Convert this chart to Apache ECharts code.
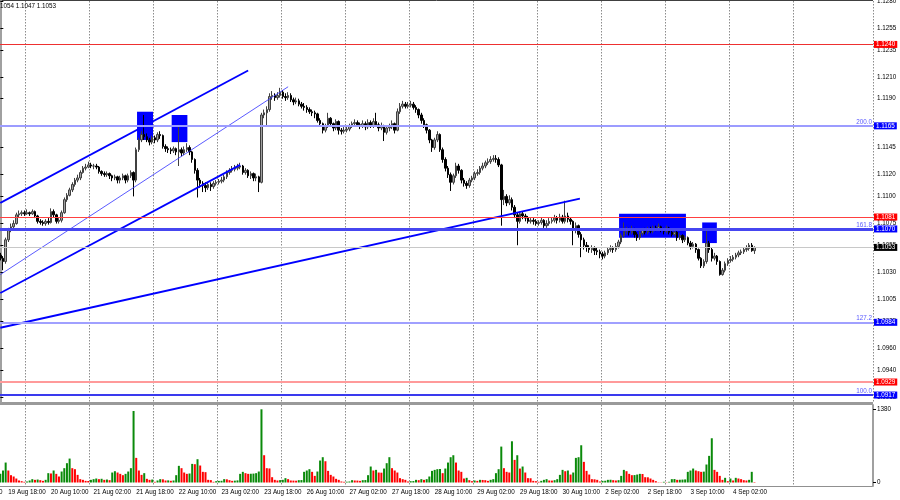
<!DOCTYPE html>
<html><head><meta charset="utf-8">
<script src="https://cdn.jsdelivr.net/npm/echarts@6/dist/echarts.min.js"></script>
<style>html,body{margin:0;padding:0;background:#fff}#c{width:900px;height:500px}</style>
</head><body><div id="c"></div>
<script>
// ---------- data ----------
const header = '1054 1.1047 1.1053';
const xLabels = ['19 Aug 18:00','20 Aug 10:00','21 Aug 02:00','21 Aug 18:00','22 Aug 10:00','23 Aug 02:00','23 Aug 18:00','26 Aug 10:00','27 Aug 02:00','27 Aug 18:00','28 Aug 10:00','29 Aug 02:00','29 Aug 18:00','30 Aug 10:00','2 Sep 02:00','2 Sep 18:00','3 Sep 10:00','4 Sep 02:00'];
const firstLabelBar = 3, labelEvery = 16;
const firstGridBar = 10, gridEvery = 24, lastGridBar = 298;
const categoryCount = 328;
const priceTicks = [1.1280,1.1255,1.1235,1.1210,1.1190,1.1165,1.1145,1.1120,1.1100,1.1075,1.1055,1.1030,1.1005,1.0985,1.0960,1.0940,1.0915];
const volumeTicks = [0, 1380];
// hourly bars: [open, high, low, close]
const ohlc = [
[1.1046,1.1048,1.1041,1.1043],[1.1043,1.1045,1.1032,1.1040],[1.1040,1.1062,1.1038,1.1060],[1.1060,1.1071,1.1058,1.1069],[1.1069,1.1075,1.1067,1.1072],
[1.1072,1.1078,1.1070,1.1075],[1.1075,1.1085,1.1074,1.1083],[1.1083,1.1087,1.1081,1.1084],[1.1084,1.1087,1.1082,1.1085],[1.1085,1.1087,1.1082,1.1084],
[1.1084,1.1088,1.1083,1.1085],[1.1085,1.1086,1.1082,1.1084],[1.1084,1.1088,1.1083,1.1086],[1.1086,1.1087,1.1080,1.1082],[1.1082,1.1083,1.1075,1.1077],
[1.1077,1.1079,1.1074,1.1076],[1.1076,1.1078,1.1073,1.1075],[1.1075,1.1079,1.1073,1.1077],[1.1077,1.1080,1.1074,1.1076],[1.1076,1.1089,1.1075,1.1086],
[1.1086,1.1088,1.1081,1.1083],[1.1083,1.1084,1.1075,1.1077],[1.1077,1.1080,1.1075,1.1078],[1.1078,1.1087,1.1076,1.1085],[1.1085,1.1099,1.1084,1.1097],
[1.1097,1.1103,1.1095,1.1101],[1.1101,1.1108,1.1100,1.1106],[1.1106,1.1113,1.1104,1.1111],[1.1111,1.1117,1.1109,1.1115],[1.1115,1.1120,1.1113,1.1117],
[1.1117,1.1124,1.1115,1.1122],[1.1122,1.1128,1.1121,1.1126],[1.1126,1.1130,1.1124,1.1127],[1.1127,1.1132,1.1126,1.1129],[1.1129,1.1131,1.1126,1.1128],
[1.1128,1.1130,1.1125,1.1128],[1.1128,1.1130,1.1125,1.1127],[1.1127,1.1128,1.1121,1.1123],[1.1123,1.1124,1.1119,1.1121],[1.1121,1.1123,1.1118,1.1120],
[1.1120,1.1123,1.1118,1.1121],[1.1121,1.1122,1.1116,1.1119],[1.1119,1.1120,1.1114,1.1117],[1.1117,1.1120,1.1115,1.1118],[1.1118,1.1119,1.1112,1.1115],
[1.1115,1.1119,1.1112,1.1117],[1.1117,1.1121,1.1115,1.1119],[1.1119,1.1120,1.1112,1.1115],[1.1115,1.1121,1.1113,1.1119],[1.1119,1.1124,1.1117,1.1122],
[1.1122,1.1123,1.1100,1.1115],[1.1115,1.1145,1.1113,1.1143],[1.1143,1.1154,1.1141,1.1152],[1.1152,1.1160,1.1150,1.1157],[1.1157,1.1175,1.1152,1.1155],
[1.1155,1.1158,1.1150,1.1152],[1.1152,1.1154,1.1147,1.1150],[1.1150,1.1156,1.1148,1.1154],[1.1154,1.1156,1.1149,1.1152],[1.1152,1.1159,1.1150,1.1157],
[1.1157,1.1160,1.1153,1.1156],[1.1156,1.1157,1.1144,1.1146],[1.1146,1.1148,1.1141,1.1144],[1.1144,1.1146,1.1140,1.1143],[1.1143,1.1145,1.1139,1.1142],
[1.1142,1.1146,1.1140,1.1144],[1.1144,1.1145,1.1138,1.1141],[1.1141,1.1166,1.1128,1.1143],[1.1143,1.1145,1.1137,1.1140],[1.1140,1.1146,1.1138,1.1143],
[1.1143,1.1149,1.1141,1.1145],[1.1145,1.1147,1.1138,1.1141],[1.1141,1.1142,1.1131,1.1134],[1.1134,1.1135,1.1121,1.1124],[1.1124,1.1126,1.1099,1.1115],
[1.1115,1.1117,1.1108,1.1112],[1.1112,1.1114,1.1104,1.1110],[1.1110,1.1113,1.1104,1.1108],[1.1108,1.1113,1.1106,1.1111],[1.1111,1.1113,1.1105,1.1109],
[1.1109,1.1114,1.1107,1.1112],[1.1112,1.1115,1.1110,1.1113],[1.1113,1.1116,1.1111,1.1114],[1.1114,1.1118,1.1112,1.1115],[1.1115,1.1120,1.1113,1.1118],
[1.1118,1.1124,1.1116,1.1122],[1.1122,1.1126,1.1120,1.1124],[1.1124,1.1128,1.1122,1.1125],[1.1125,1.1129,1.1123,1.1126],[1.1126,1.1130,1.1124,1.1127],
[1.1127,1.1131,1.1125,1.1128],[1.1128,1.1129,1.1120,1.1122],[1.1122,1.1126,1.1120,1.1124],[1.1124,1.1125,1.1117,1.1119],[1.1119,1.1123,1.1116,1.1121],
[1.1121,1.1122,1.1114,1.1117],[1.1117,1.1121,1.1114,1.1118],[1.1118,1.1119,1.1104,1.1113],[1.1113,1.1177,1.1112,1.1175],[1.1175,1.1180,1.1172,1.1177],
[1.1177,1.1183,1.1164,1.1180],[1.1180,1.1195,1.1178,1.1192],[1.1192,1.1197,1.1189,1.1193],[1.1193,1.1195,1.1188,1.1191],[1.1191,1.1196,1.1189,1.1193],
[1.1193,1.1200,1.1191,1.1196],[1.1196,1.1198,1.1190,1.1192],[1.1192,1.1195,1.1188,1.1191],[1.1191,1.1196,1.1189,1.1193],[1.1193,1.1195,1.1187,1.1189],
[1.1189,1.1191,1.1184,1.1187],[1.1187,1.1191,1.1185,1.1188],[1.1188,1.1190,1.1183,1.1185],[1.1185,1.1187,1.1181,1.1183],[1.1183,1.1186,1.1179,1.1182],
[1.1182,1.1184,1.1177,1.1180],[1.1180,1.1182,1.1176,1.1178],[1.1178,1.1180,1.1174,1.1177],[1.1177,1.1179,1.1172,1.1176],[1.1176,1.1177,1.1168,1.1170],
[1.1170,1.1172,1.1164,1.1167],[1.1167,1.1168,1.1158,1.1161],[1.1161,1.1167,1.1159,1.1165],[1.1165,1.1177,1.1163,1.1172],[1.1172,1.1173,1.1164,1.1167],
[1.1167,1.1168,1.1160,1.1163],[1.1163,1.1171,1.1161,1.1169],[1.1169,1.1170,1.1157,1.1161],[1.1161,1.1163,1.1157,1.1160],[1.1160,1.1164,1.1158,1.1161],
[1.1161,1.1165,1.1159,1.1162],[1.1162,1.1167,1.1160,1.1165],[1.1165,1.1169,1.1163,1.1167],[1.1167,1.1171,1.1165,1.1168],[1.1168,1.1170,1.1164,1.1166],
[1.1166,1.1168,1.1162,1.1165],[1.1165,1.1170,1.1163,1.1167],[1.1167,1.1169,1.1161,1.1164],[1.1164,1.1171,1.1162,1.1168],[1.1168,1.1170,1.1163,1.1165],
[1.1165,1.1172,1.1163,1.1169],[1.1169,1.1177,1.1164,1.1166],[1.1166,1.1168,1.1160,1.1163],[1.1163,1.1168,1.1161,1.1165],[1.1165,1.1166,1.1151,1.1159],
[1.1159,1.1165,1.1157,1.1163],[1.1163,1.1167,1.1160,1.1164],[1.1164,1.1170,1.1162,1.1167],[1.1167,1.1168,1.1158,1.1161],[1.1161,1.1181,1.1160,1.1178],
[1.1178,1.1186,1.1176,1.1183],[1.1183,1.1188,1.1181,1.1185],[1.1185,1.1187,1.1181,1.1183],[1.1183,1.1187,1.1181,1.1184],[1.1184,1.1188,1.1182,1.1185],
[1.1185,1.1187,1.1180,1.1182],[1.1182,1.1184,1.1177,1.1180],[1.1180,1.1181,1.1172,1.1175],[1.1175,1.1177,1.1167,1.1170],[1.1170,1.1172,1.1163,1.1166],
[1.1166,1.1167,1.1158,1.1161],[1.1161,1.1162,1.1149,1.1152],[1.1152,1.1153,1.1141,1.1145],[1.1145,1.1154,1.1143,1.1152],[1.1152,1.1160,1.1150,1.1157],
[1.1157,1.1158,1.1141,1.1143],[1.1143,1.1145,1.1131,1.1134],[1.1134,1.1136,1.1123,1.1126],[1.1126,1.1128,1.1117,1.1120],[1.1120,1.1122,1.1105,1.1113],
[1.1113,1.1121,1.1111,1.1119],[1.1119,1.1131,1.1117,1.1128],[1.1128,1.1130,1.1121,1.1124],[1.1124,1.1125,1.1112,1.1115],[1.1115,1.1117,1.1109,1.1112],
[1.1112,1.1114,1.1107,1.1110],[1.1110,1.1117,1.1108,1.1115],[1.1115,1.1119,1.1113,1.1117],[1.1117,1.1123,1.1115,1.1121],[1.1121,1.1125,1.1119,1.1122],
[1.1122,1.1128,1.1120,1.1126],[1.1126,1.1131,1.1124,1.1128],[1.1128,1.1133,1.1126,1.1131],[1.1131,1.1135,1.1129,1.1132],[1.1132,1.1137,1.1130,1.1134],
[1.1134,1.1138,1.1132,1.1135],[1.1135,1.1138,1.1131,1.1134],[1.1134,1.1136,1.1127,1.1129],[1.1129,1.1130,1.1073,1.1097],[1.1097,1.1106,1.1092,1.1100],
[1.1100,1.1102,1.1091,1.1094],[1.1094,1.1101,1.1092,1.1097],[1.1097,1.1099,1.1087,1.1090],[1.1090,1.1092,1.1080,1.1083],[1.1083,1.1085,1.1055,1.1077],
[1.1077,1.1086,1.1075,1.1084],[1.1084,1.1086,1.1079,1.1082],[1.1082,1.1084,1.1077,1.1080],[1.1080,1.1082,1.1075,1.1077],[1.1077,1.1080,1.1075,1.1078],
[1.1078,1.1080,1.1074,1.1077],[1.1077,1.1079,1.1073,1.1075],[1.1075,1.1078,1.1073,1.1076],[1.1076,1.1081,1.1074,1.1078],[1.1078,1.1079,1.1071,1.1073],
[1.1073,1.1078,1.1071,1.1075],[1.1075,1.1080,1.1073,1.1077],[1.1077,1.1081,1.1075,1.1078],[1.1078,1.1083,1.1076,1.1080],[1.1080,1.1082,1.1075,1.1078],
[1.1078,1.1084,1.1076,1.1081],[1.1081,1.1083,1.1075,1.1077],[1.1077,1.1096,1.1075,1.1082],[1.1082,1.1085,1.1076,1.1079],[1.1079,1.1081,1.1074,1.1077],
[1.1077,1.1078,1.1055,1.1069],[1.1069,1.1076,1.1066,1.1073],[1.1073,1.1074,1.1062,1.1065],[1.1065,1.1067,1.1044,1.1060],[1.1060,1.1062,1.1051,1.1055],
[1.1055,1.1058,1.1049,1.1053],[1.1053,1.1055,1.1048,1.1051],[1.1051,1.1055,1.1048,1.1052],[1.1052,1.1054,1.1046,1.1050],[1.1050,1.1053,1.1046,1.1049],
[1.1049,1.1051,1.1043,1.1047],[1.1047,1.1049,1.1042,1.1045],[1.1045,1.1050,1.1043,1.1048],[1.1048,1.1053,1.1046,1.1051],[1.1051,1.1055,1.1049,1.1052],
[1.1052,1.1054,1.1048,1.1051],[1.1051,1.1057,1.1049,1.1054],[1.1054,1.1060,1.1052,1.1058],[1.1058,1.1066,1.1056,1.1064],[1.1064,1.1076,1.1062,1.1068],
[1.1068,1.1072,1.1065,1.1069],[1.1069,1.1071,1.1064,1.1067],[1.1067,1.1073,1.1065,1.1070],[1.1070,1.1071,1.1062,1.1065],[1.1065,1.1067,1.1059,1.1062],
[1.1062,1.1068,1.1060,1.1066],[1.1066,1.1071,1.1064,1.1069],[1.1069,1.1071,1.1065,1.1067],[1.1067,1.1072,1.1065,1.1070],[1.1070,1.1072,1.1066,1.1068],
[1.1068,1.1073,1.1066,1.1071],[1.1071,1.1073,1.1068,1.1070],[1.1070,1.1075,1.1068,1.1072],[1.1072,1.1073,1.1067,1.1069],[1.1069,1.1071,1.1065,1.1068],
[1.1068,1.1073,1.1066,1.1071],[1.1071,1.1072,1.1065,1.1067],[1.1067,1.1069,1.1063,1.1065],[1.1065,1.1070,1.1063,1.1067],[1.1067,1.1068,1.1059,1.1062],
[1.1062,1.1066,1.1060,1.1064],[1.1064,1.1065,1.1057,1.1060],[1.1060,1.1064,1.1058,1.1062],[1.1062,1.1063,1.1055,1.1057],[1.1057,1.1059,1.1051,1.1054],
[1.1054,1.1058,1.1052,1.1056],[1.1056,1.1057,1.1048,1.1051],[1.1051,1.1052,1.1041,1.1043],[1.1043,1.1044,1.1034,1.1036],[1.1036,1.1042,1.1034,1.1040],
[1.1040,1.1069,1.1038,1.1057],[1.1057,1.1059,1.1048,1.1051],[1.1051,1.1053,1.1040,1.1043],[1.1043,1.1048,1.1041,1.1045],[1.1045,1.1046,1.1037,1.1040],
[1.1040,1.1041,1.1027,1.1028],[1.1028,1.1034,1.1027,1.1032],[1.1032,1.1040,1.1030,1.1038],[1.1038,1.1043,1.1036,1.1041],[1.1041,1.1045,1.1039,1.1042],
[1.1042,1.1046,1.1040,1.1044],[1.1044,1.1048,1.1042,1.1046],[1.1046,1.1050,1.1044,1.1048],[1.1048,1.1051,1.1046,1.1049],[1.1049,1.1053,1.1047,1.1051],
[1.1051,1.1055,1.1049,1.1052],[1.1052,1.1057,1.1050,1.1055],[1.1055,1.1057,1.1049,1.1050],[1.1050,1.1054,1.1047,1.1053]
];
const volumes = [
163,226,376,226,138,113,75,38,25,13,
19,38,63,50,56,44,31,50,176,170,
226,163,113,207,270,364,451,270,251,144,
63,50,31,28,50,63,75,63,70,50,
56,44,188,213,188,163,138,163,207,270,
1348,464,226,144,176,69,50,56,13,38,
63,60,38,40,32,38,138,314,270,188,
163,170,351,345,439,320,201,195,50,45,
13,25,30,32,63,60,44,31,35,40,
163,201,176,163,165,168,176,207,1380,514,
270,265,100,50,38,45,50,82,63,38,
36,34,44,46,201,226,251,201,125,207,
414,477,401,219,144,113,69,50,19,13,
15,19,44,38,36,31,44,46,138,301,
226,238,188,185,263,364,477,270,226,188,
82,63,50,19,25,27,50,44,63,50,
63,113,219,238,251,255,176,263,376,
477,514,376,226,201,75,88,44,25,38,
31,50,48,44,31,50,63,176,251,677,
270,201,188,777,426,514,263,301,188,82,
80,31,25,13,31,50,63,38,36,44,
63,144,238,213,226,150,188,464,477,702,
389,219,150,63,60,50,19,31,33,50,
52,44,38,44,125,238,213,163,138,140,
150,163,160,100,98,75,50,25,5,4,
13,5,13,63,65,50,52,55,58,201,
226,263,226,213,201,205,339,502,834,238,
201,125,50,88,25,75,38,88,75,63,
44,38,50,201,8
];
const levelPrices = [1.1240, 1.1165, 1.1081, 1.1070, 1.1053, 1.0984, 1.0929, 1.0917];
const levelTags   = ['', '200.0', '', '161.8', '', '127.2', '', '100.0'];
// trend lines: [[barIndex, price], [barIndex, price]]
const trendLines = [
  [[0, 1.1094], [93, 1.1216]],
  [[0, 1.1011], [90, 1.1129]],
  [[0, 1.1028], [108, 1.1201]],
  [[0, 1.0979], [217.5, 1.1098]]
];
// rectangles: [[barIndex, priceTop], [barIndex, priceBottom]]
const zones = [
  [[51.3, 1.1178], [57.3, 1.1152]],
  [[64.3, 1.1175], [70.2, 1.1150]],
  [[232.2, 1.1084], [257.3, 1.1062]],
  [[263.4, 1.1076], [268.9, 1.1057]]
];

// ---------- styles ----------
const FONT = 'Liberation Sans';
const FS = 6.3;
const levelLook = [
  {line:'#ee3030', width:1, tag:'#ff0000'},
  {line:'#9c9cff', width:2, tag:'#0000ff'},
  {line:'#ff4040', width:1, tag:'#ff0000'},
  {line:'#4646f0', width:3, tag:'#0000ff'},
  {line:'#c8c8c8', width:1, tag:'#000000'},
  {line:'#a0a0ff', width:2, tag:'#0000ff'},
  {line:'#ff9a9a', width:2, tag:'#ff0000'},
  {line:'#3a3aee', width:2, tag:'#0000ff'}
];
const lineLook = [
  {w:1.8, c:'#0000ff'}, {w:1.8, c:'#0000ff'}, {w:0.8, c:'#3030ff'}, {w:1.8, c:'#0000ff'}
];

// ---------- build ----------
const cats = Array.from({length: categoryCount}, (_, i) => String(i));
const labelAt = {};
xLabels.forEach((t, k) => { labelAt[firstLabelBar + k * labelEvery] = t; });
const showGrid = i => i >= firstGridBar && i <= lastGridBar && (i - firstGridBar) % gridEvery === 0;
const candleData = ohlc.map(r => [r[0], r[3], r[2], r[1]]);
const volData = volumes.map((v, i) => ({
  value: v,
  itemStyle: {color: (i === 0 || v > volumes[i - 1]) ? '#0a8a0a' : '#ff0000'}
}));
const levelLines = [];
const levelTexts = [];
levelPrices.forEach((p, k) => {
  const L = levelLook[k];
  levelLines.push({
    yAxis: p,
    lineStyle: {color: L.line, width: L.width, type: 'solid'},
    label: {show: true, position: 'end', formatter: p.toFixed(4), backgroundColor: L.tag,
            color: '#fff', fontSize: FS, fontFamily: FONT, padding: [1, 2, 0, 2], distance: 1}
  });
  if (levelTags[k]) {
    levelTexts.push({
      yAxis: p,
      lineStyle: {color: L.line, width: L.width, type: 'solid'},
      label: {show: true, position: 'insideEndTop', formatter: levelTags[k], color: '#5a5aff',
              fontSize: FS, fontFamily: FONT, distance: 1, opacity: 1}
    });
  }
});
const splitStyle = {show: true, interval: (i) => showGrid(i), lineStyle: {color: '#8c8c8c', width: 1, type: [1.5, 1.5]}};

const option = {
  animation: false,
  backgroundColor: '#fff',
  textStyle: {fontFamily: FONT},
  title: {text: header, left: 0, top: 3, padding: 0,
          textStyle: {fontSize: FS, fontWeight: 'normal', color: '#000', fontFamily: FONT}},
  grid: [
    {left: -1, width: 874, top: 1, height: 401, outerBoundsMode: 'none'},
    {left: -1, width: 874, top: 405, height: 81, outerBoundsMode: 'none'}
  ],
  xAxis: [
    {type: 'category', gridIndex: 0, data: cats, boundaryGap: true,
     axisLine: {show: false}, axisTick: {show: false}, axisLabel: {show: false}, splitLine: splitStyle},
    {type: 'category', gridIndex: 1, data: cats, boundaryGap: true,
     axisLine: {show: false}, axisTick: {show: false},
     axisLabel: {show: true, interval: (i) => labelAt[i] !== undefined, formatter: (v, i) => labelAt[i] || '',
                 align: 'left', margin: 3, fontSize: FS, color: '#000', fontFamily: FONT},
     splitLine: splitStyle},
    {type: 'value', gridIndex: 0, min: -0.5, max: categoryCount - 0.5, show: false}
  ],
  yAxis: [
    {type: 'value', gridIndex: 0, position: 'right', min: 1.09106, max: 1.1280,
     splitLine: {show: false},
     axisLine: {show: true, lineStyle: {color: '#a0a0a0', width: 2}},
     axisTick: {show: true, customValues: priceTicks, length: 3, lineStyle: {color: '#000'}},
     axisLabel: {show: true, customValues: priceTicks, formatter: v => v.toFixed(4), fontSize: FS,
                 color: '#000', margin: 4, fontFamily: FONT}},
    {type: 'value', gridIndex: 1, position: 'right', min: -66, max: 1461,
     splitLine: {show: false},
     axisLine: {show: true, lineStyle: {color: '#a0a0a0', width: 2}},
     axisTick: {show: true, customValues: volumeTicks, length: 3, lineStyle: {color: '#000'}},
     axisLabel: {show: true, customValues: volumeTicks, formatter: v => String(v), fontSize: FS,
                 color: '#000', margin: 4, fontFamily: FONT}}
  ],
  series: [
    {type: 'line', name: 'zones', xAxisIndex: 2, yAxisIndex: 0, data: [], z: 1, silent: true,
     markArea: {silent: true, itemStyle: {color: '#0000ff', opacity: 1},
                data: zones.map(z => [{coord: z[0]}, {coord: z[1]}])}},
    {type: 'line', name: 'levels', xAxisIndex: 2, yAxisIndex: 0, data: [], z: 2, silent: true,
     markLine: {silent: true, symbol: ['none', 'none'], animation: false, precision: 4, data: levelLines}},
    {type: 'line', name: 'fib', xAxisIndex: 2, yAxisIndex: 0, data: [], z: 2, silent: true,
     markLine: {silent: true, symbol: ['none', 'none'], animation: false, precision: 4, data: levelTexts}},
    {type: 'candlestick', name: 'price', xAxisIndex: 0, yAxisIndex: 0, data: candleData, z: 3,
     barWidth: 2,
     itemStyle: {color: '#a0a0a0', color0: '#000000', borderColor: '#404040', borderColor0: '#000000', borderWidth: 1}},
    ...trendLines.map((t, k) => ({
      type: 'line', xAxisIndex: 2, yAxisIndex: 0, data: t, symbol: 'none', showSymbol: false, z: 4, silent: true,
      lineStyle: {color: lineLook[k].c, width: lineLook[k].w}
    })),
    {type: 'bar', name: 'volume', xAxisIndex: 1, yAxisIndex: 1, data: volData, barWidth: 2, z: 3, silent: true}
  ],
  graphic: [
    {type: 'line', shape: {x1: 0, y1: 0.5, x2: 873, y2: 0.5}, style: {stroke: '#404040', lineWidth: 1}, silent: true},
    {type: 'rect', shape: {x: 0, y: 402, width: 873, height: 3}, style: {fill: '#9a9a9a'}, silent: true},
    {type: 'line', shape: {x1: 0, y1: 486.5, x2: 873, y2: 486.5}, style: {stroke: '#909090', lineWidth: 1}, silent: true},
    {type: 'text', x: -1, y: 489, style: {text: '0', fontSize: FS, fontFamily: FONT, fill: '#000'}, silent: true}
  ]
};
const chart = echarts.init(document.getElementById('c'), null, {renderer: 'canvas'});
chart.setOption(option);
</script></body></html>
